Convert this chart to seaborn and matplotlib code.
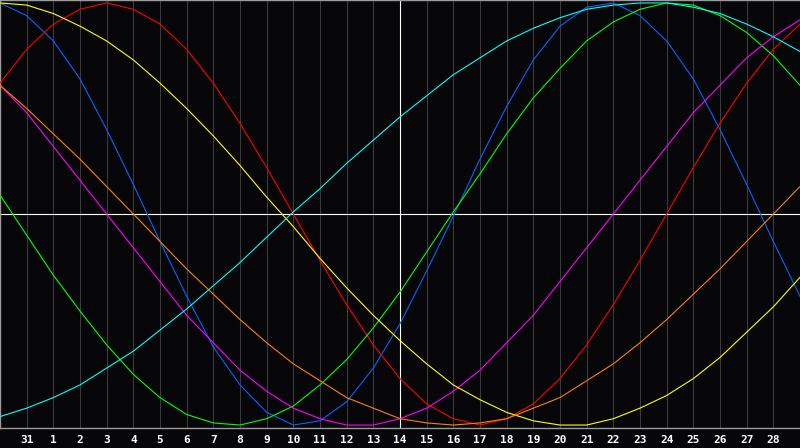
import matplotlib
matplotlib.use("Agg")
import matplotlib.pyplot as plt
import seaborn as sns
import pandas as pd

# Day index 0..30 across the chart; tick labels at 1..29
days = list(range(31))
tick_pos = list(range(1, 30))
tick_labels = ["31"] + [str(i) for i in range(1, 29)]

# Cycle values (percent) read per day
physical_23 = [100, 94, 82, 64, 40, 14, -13, -39, -63, -81, -94, -100, -98, -89, -73, -52,
               -27, -1, 26, 51, 73, 89, 98, 100, 94, 82, 64, 40, 14, -13, -39]
emotional_28 = [62, 78, 90, 97, 100, 97, 90, 78, 62, 43, 22, 0, -22, -43, -62, -78,
                -90, -97, -100, -97, -90, -78, -62, -43, -22, 0, 22, 43, 62, 78, 90]
intellectual_33 = [9, -10, -29, -46, -62, -76, -87, -95, -99, -100, -97, -91, -81, -69, -54, -37,
                   -18, 1, 19, 38, 55, 69, 82, 91, 97, 100, 99, 94, 86, 75, 61]
intuitive_38 = [61, 48, 32, 16, 0, -16, -32, -48, -61, -74, -84, -92, -97, -100, -100, -97,
                -92, -84, -74, -61, -48, -32, -16, 0, 16, 32, 48, 61, 74, 84, 92]
aesthetic_43 = [100, 99, 95, 89, 82, 73, 62, 50, 37, 23, 8, -6, -21, -35, -48, -60,
                -71, -81, -88, -94, -98, -100, -100, -97, -92, -86, -78, -68, -56, -44, -30]
awareness_48 = [61, 50, 38, 26, 13, 0, -13, -26, -38, -50, -61, -71, -79, -87, -92, -97,
                -99, -100, -99, -97, -92, -87, -79, -71, -61, -50, -38, -26, -13, 0, 13]
spiritual_53 = [-96, -92, -87, -81, -73, -65, -55, -45, -34, -23, -11, 1, 12, 24, 35, 46,
                56, 66, 74, 82, 88, 93, 97, 99, 100, 100, 98, 95, 90, 84, 77]

series = {
    "physical": physical_23,
    "emotional": emotional_28,
    "intellectual": intellectual_33,
    "intuitive": intuitive_38,
    "aesthetic": aesthetic_43,
    "awareness": awareness_48,
    "spiritual": spiritual_53,
}
colors = {
    "physical": "#0066FF",
    "emotional": "#FF0000",
    "intellectual": "#00FF00",
    "intuitive": "#FF00FF",
    "aesthetic": "#FFFF00",
    "awareness": "#FF8000",
    "spiritual": "#00FFFF",
}

rows = []
for name, vals in series.items():
    for d, v in zip(days, vals):
        rows.append({"day": d, "value": v, "cycle": name})
df = pd.DataFrame(rows)

sns.set_style("dark")
fig = plt.figure(figsize=(8, 4.48), dpi=100)
fig.patch.set_facecolor("#060609")
ax = fig.add_axes([0.0, 20 / 448, 1.0, 428 / 448])
ax.set_facecolor("#060609")

# grid lines
for k in tick_pos:
    if k == 15:
        continue
    ax.axvline(k, color="#3c3c3e", lw=0.75, zorder=1)
ax.axvline(15, color="#ffffff", lw=0.8, zorder=2)
ax.axhline(0, color="#ffffff", lw=0.8, zorder=2)

sns.lineplot(data=df, x="day", y="value", hue="cycle", palette=colors,
             legend=False, sort=False, linewidth=0.8, ax=ax, zorder=3)

ax.set_xlim(0, 30)
ax.set_ylim(-101.4, 101.4)
ax.set_xticks(tick_pos)
ax.set_xticklabels(tick_labels, color="white", fontsize=8, fontweight="bold",
                   family="DejaVu Sans Mono")
ax.set_yticks([])
ax.tick_params(axis="x", length=0, pad=5)
ax.set_xlabel("")
ax.set_ylabel("")
ax.grid(False)
for side in ["left", "top", "bottom"]:
    ax.spines[side].set_visible(True)
    ax.spines[side].set_color("#9a9a9a")
    ax.spines[side].set_linewidth(1.0)
ax.spines["right"].set_visible(False)

fig.savefig("out.png", dpi=100, facecolor=fig.get_facecolor())
